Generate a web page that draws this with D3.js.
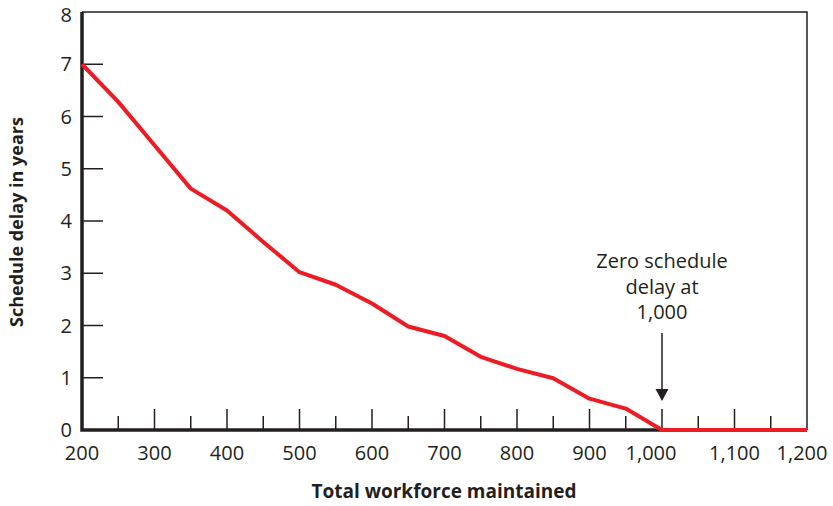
<!DOCTYPE html>
<html>
<head>
<meta charset="utf-8">
<script src="https://cdn.jsdelivr.net/npm/d3@7"></script>
<style>
  body { margin: 0; background: #fff; }
  text { font-family: "Open Sans", "Noto Sans", sans-serif; fill: #231f20; }
</style>
</head>
<body>
<svg width="833" height="506"></svg>
<script>
// workforce vs. schedule delay
const workforce = [200, 250, 300, 350, 400, 450, 500, 550, 600, 650, 700, 750, 800, 850, 900, 950, 1000, 1100, 1200];
const delayYears = [7.0, 6.28, 5.45, 4.62, 4.2, 3.6, 3.02, 2.78, 2.42, 1.98, 1.8, 1.4, 1.17, 0.99, 0.6, 0.41, 0, 0, 0];
const xTicks = [200, 300, 400, 500, 600, 700, 800, 900, 1000, 1100, 1200];
const xMinorTicks = [250, 350, 450, 550, 650, 750, 850, 950, 1050, 1150];
const yTicks = [0, 1, 2, 3, 4, 5, 6, 7, 8];
const noteLines = ['Zero schedule', 'delay at', '1,000'];

const svg = d3.select('svg');
const margin = { top: 12, right: 26, bottom: 76, left: 82 };
const width = +svg.attr('width');
const height = +svg.attr('height');

const x = d3.scaleLinear().domain([200, 1200]).range([margin.left, width - margin.right]);
const y = d3.scaleLinear().domain([0, 8]).range([height - margin.bottom, margin.top]);

const ink = '#231f20';

// frame top/right
svg.append('path')
    .attr('d', `M${x(200)},${y(8)}H${x(1200)}V${y(0)}`)
    .attr('fill', 'none')
    .attr('stroke', ink)
    .attr('stroke-width', 1.5);

// y ticks (inside)
svg.append('g')
  .selectAll('line')
  .data(yTicks.filter(d => d > 0 && d < 8))
  .enter().append('line')
    .attr('x1', x(200)).attr('x2', x(200) + 21)
    .attr('y1', d => y(d)).attr('y2', d => y(d))
    .attr('stroke', ink).attr('stroke-width', 1.5);

svg.append('g')
  .selectAll('text')
  .data(yTicks)
  .enter().append('text')
    .attr('x', x(200) - 10)
    .attr('y', d => Math.max(y(d), 15))
    .attr('dy', '0.36em')
    .attr('text-anchor', 'end')
    .style('font-size', '20px')
    .text(d => d);

// x ticks (inside, major + minor)
svg.append('g')
  .selectAll('line')
  .data(xTicks.filter(d => d > 200 && d < 1200))
  .enter().append('line')
    .attr('x1', d => x(d)).attr('x2', d => x(d))
    .attr('y1', y(0)).attr('y2', y(0) - 21)
    .attr('stroke', ink).attr('stroke-width', 1.5);

svg.append('g')
  .selectAll('line')
  .data(xMinorTicks)
  .enter().append('line')
    .attr('x1', d => x(d)).attr('x2', d => x(d))
    .attr('y1', y(0)).attr('y2', y(0) - 14)
    .attr('stroke', ink).attr('stroke-width', 1.5);

const labelShift = { 1000: -11, 1200: -5 };
svg.append('g')
  .selectAll('text')
  .data(xTicks)
  .enter().append('text')
    .attr('x', d => x(d) + (labelShift[d] || 0))
    .attr('y', y(0) + 30)
    .attr('text-anchor', 'middle')
    .style('font-size', '20px')
    .text(d => d3.format(',')(d));

// main axes
svg.append('path')
    .attr('d', `M${x(200)},${y(8)}V${y(0)}H${x(1200)}`)
    .attr('fill', 'none')
    .attr('stroke', ink)
    .attr('stroke-width', 3.5);

// data line
const line = d3.line().x((d, i) => x(workforce[i])).y(d => y(d));
svg.append('path')
    .datum(delayYears)
    .attr('d', line)
    .attr('fill', 'none')
    .attr('stroke', '#ed1c24')
    .attr('stroke-width', 4)
    .attr('stroke-linejoin', 'round');

// annotation
const note = svg.append('text')
    .attr('text-anchor', 'middle')
    .style('font-size', '20px');
note.selectAll('tspan')
  .data(noteLines)
  .enter().append('tspan')
    .attr('x', x(1000))
    .attr('y', (d, i) => 268 + i * 25.5)
    .text(d => d);

svg.append('line')
    .attr('x1', x(1000)).attr('x2', x(1000))
    .attr('y1', 333).attr('y2', 392)
    .attr('stroke', ink).attr('stroke-width', 1.5);
svg.append('path')
    .attr('d', `M${x(1000) - 6.5},389L${x(1000) + 6.5},389L${x(1000)},401Z`)
    .attr('fill', ink);

// axis titles
svg.append('text')
    .attr('x', 444)
    .attr('y', 498)
    .attr('text-anchor', 'middle')
    .style('font-size', '19px')
    .style('font-weight', 'bold')
    .text('Total workforce maintained');

svg.append('text')
    .attr('transform', 'translate(23,222) rotate(-90)')
    .attr('text-anchor', 'middle')
    .style('font-size', '18px')
    .style('font-weight', 'bold')
    .text('Schedule delay in years');
</script>
</body>
</html>
